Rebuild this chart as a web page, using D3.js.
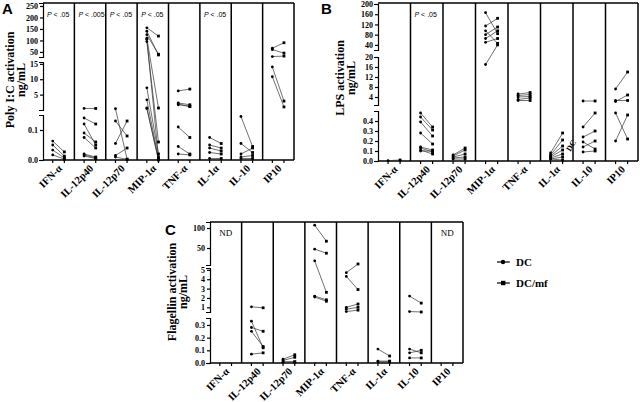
<!DOCTYPE html>
<head>
  <meta charset="utf-8">
  <title>Cytokine activation</title>
  <script src="https://d3js.org/d3.v7.min.js"></script>
  <style>
    body { margin: 0; background: #fff; }
    text { font-family: "Liberation Serif", "Times New Roman", serif; font-weight: bold; }
    .pval { font-family: "Liberation Sans", Arial, sans-serif; font-weight: normal; font-size: 7px; }
    .nd { font-weight: normal; font-size: 9px; }
    .letter { font-family: "Liberation Sans", Arial, sans-serif; font-weight: bold; font-size: 15px; }
    .pair { stroke: #333; stroke-width: 0.7; }
    .frame { stroke: #000; stroke-width: 1.5; fill: none; }
    .tick line, .domain { stroke: #000; stroke-width: 1.2; }
  </style>
</head>
<body>
<script>
var cytokines = ["IFN-α", "IL-12p40", "IL-12p70", "MIP-1α", "TNF-α", "IL-1α", "IL-10", "IP10"];

// Poly I:C, one list of donors per cytokine (DC -> DC/mf)
var polyDC = [
  [0.063, 0.05, 0.033, 0.017],
  [0.5, 0.14, 0.12, 0.09, 0.075, 0.02, 0.017, 0.013],
  [0.4, 0.13, 0.055, 0.015, 0.01],
  [155, 140, 125, 110, 95, 105, 7.2, 3.3, 0.65, 0.5],
  [6.2, 2.3, 2.0, 1.7, 0.11, 0.045, 0.02],
  [0.075, 0.05, 0.04, 0.025, 0.005],
  [0.145, 0.055, 0.02, 0.01, 0.005],
  [66, 60, 30, 14, 10.8]
];
var polyDCmf = [
  [0.027, 0.013, 0.007, 0.003],
  [0.5, 0.12, 0.05, 0.06, 0.04, 0.01, 0.007, 0.005],
  [0.003, 0.08, 0.13, 0.04, 0.002],
  [119, 37, 40, 0.65, 0.06, 0.01, 0.02, 0.005, 0.002, 0.0],
  [6.8, 1.7, 1.1, 1.2, 0.075, 0.02, 0.017],
  [0.055, 0.04, 0.03, 0.02, 0.005],
  [0.045, 0.025, 0.04, 0.015, 0.005],
  [90, 45, 32, 2.9, 1.0]
];
var polyP = ["P < .05", "P < .005", "P < .05", "P < .05", "", "P < .05", "", ""];

// LPS
var lpsDC = [
  [0.003],
  [0.48, 0.44, 0.39, 0.28, 0.14, 0.13, 0.11, 0.1],
  [0.06, 0.05, 0.04, 0.03, 0.02],
  [166, 114, 95, 80, 65, 50, 17],
  [5.2, 4.6, 4.0, 3.0, 2.6],
  [0.08, 0.06, 0.05, 0.04, 0.03, 0.02, 0.02],
  [2.4, 0.34, 0.24, 0.19, 0.14, 0.09],
  [7.2, 2.6, 2.2, 0.2, 0.48]
];
var lpsDCmf = [
  [0.01],
  [0.34, 0.31, 0.25, 0.17, 0.11, 0.09, 0.07, 0.1],
  [0.13, 0.11, 0.07, 0.04, 0.02],
  [84, 144, 46, 110, 95, 65, 40],
  [5.8, 5.0, 4.2, 3.6, 2.6],
  [0.28, 0.21, 0.15, 0.11, 0.07, 0.04, 0.01],
  [2.4, 0.48, 0.3, 0.12, 0.2, 0.1],
  [14, 2.6, 4.8, 0.46, 0.22]
];
var lpsP = ["", "P < .05", "", "", "", "", "", ""];

// Flagellin
var flaDC = [
  [],
  [1.05, 0.33, 0.28, 0.25, 0.07],
  [0.03, 0.02, 0.01, 0.005],
  [107, 47, 18, 2.2, 2.1],
  [4.7, 4.3, 1.0, 0.8, 0.55],
  [0.11, 0.015, 0.01],
  [2.2, 0.55, 0.11, 0.08, 0.04],
  []
];
var flaDCmf = [
  [],
  [0.95, 0.12, 0.25, 0.13, 0.08],
  [0.065, 0.045, 0.01, 0.008],
  [67, 37, 2.6, 1.8, 1.65],
  [10, 2.9, 1.35, 1.0, 0.7],
  [0.055, 0.015, 0.01],
  [1.45, 0.5, 0.08, 0.1, 0.04],
  []
];
var flaND = ["IFN-α", "IP10"];

// broken axis tick labels
var polyTicks = [[50, 100, 150, 200, 250], [5, 10, 15], [0, 0.1]];
var lpsTicks = [[40, 80, 120, 160, 200], [4, 8, 12, 16, 20], [0, 0.1, 0.2, 0.3, 0.4]];
var flaTicks = [[50, 100], [1, 2, 3, 4, 5], [0, 0.1, 0.2, 0.3]];

var width = 640, height = 402;
var svg = d3.select("body").append("svg")
    .attr("width", width)
    .attr("height", height);

function panel(o) {
  var g = svg.append("g");
  var x = d3.scaleBand().domain(cytokines).range([o.left, o.right]);
  var bw = x.bandwidth();
  function xs(name, k) { return x(name) + bw * (k ? 0.68 : 0.31); }

  var segs = o.segments.map(function(s, i) {
    return {
      scale: d3.scaleLinear().domain(s.domain).range(s.range),
      ticks: o.ticks[i],
      fmt: s.fmt
    };
  });
  function y(v) {
    if (v > segs[0].scale.domain()[0]) return segs[0].scale(v);
    if (v > segs[2].scale.domain()[1]) return segs[1].scale(Math.max(v, segs[1].scale.domain()[0]));
    return segs[2].scale(v);
  }

  // column frame
  g.append("line").attr("class", "frame")
    .attr("x1", o.left).attr("x2", o.right)
    .attr("y1", o.top).attr("y2", o.top);
  g.selectAll(".sep").data(cytokines).enter().append("line")
    .attr("class", "frame")
    .attr("x1", function(d) { return x(d) + bw; })
    .attr("x2", function(d) { return x(d) + bw; })
    .attr("y1", o.top).attr("y2", o.bottom);

  // left broken axis
  segs.forEach(function(s) {
    g.append("g")
      .attr("transform", "translate(" + o.left + ",0)")
      .call(d3.axisLeft(s.scale).tickValues(s.ticks).tickSize(3).tickSizeOuter(4)
        .tickFormat(d3.format(s.fmt)))
      .call(function(a) {
        a.selectAll("text").attr("font-size", 8).attr("font-family", null).attr("dx", "1");
      });
  });

  // bottom axis with a tick under each group
  g.append("line").attr("class", "frame")
    .attr("x1", o.left).attr("x2", o.right)
    .attr("y1", o.bottom).attr("y2", o.bottom);
  cytokines.forEach(function(c) {
    [0, 1].forEach(function(k) {
      g.append("line").attr("stroke", "#000").attr("stroke-width", 1.2)
        .attr("x1", xs(c, k)).attr("x2", xs(c, k))
        .attr("y1", o.bottom).attr("y2", o.bottom + 3);
    });
  });
  g.selectAll(".xl").data(cytokines).enter().append("text")
    .attr("font-size", 10.5)
    .attr("text-anchor", "end")
    .attr("transform", function(d) {
      return "translate(" + (x(d) + bw / 2 + 4) + "," + (o.bottom + 9) + ") rotate(-45)";
    })
    .text(function(d) { return d; });

  // paired donors
  cytokines.forEach(function(c, i) {
    var a = o.dc[i], b = o.dcmf[i];
    a.forEach(function(v, j) {
      g.append("line").attr("class", "pair")
        .attr("x1", xs(c, 0)).attr("y1", y(v))
        .attr("x2", xs(c, 1)).attr("y2", y(b[j]));
    });
    a.forEach(function(v) {
      g.append("circle").attr("cx", xs(c, 0)).attr("cy", y(v)).attr("r", 1.4).attr("fill", "#000");
    });
    b.forEach(function(v) {
      g.append("rect").attr("x", xs(c, 1) - 1.4).attr("y", y(v) - 1.4)
        .attr("width", 2.8).attr("height", 2.8).attr("fill", "#000");
    });
  });

  if (o.p) {
    g.selectAll(".pv").data(cytokines).enter().append("text")
      .attr("class", "pval")
      .attr("x", function(d) { return x(d) + 4; })
      .attr("y", o.top + 14)
      .each(function(d, i) {
        if (!o.p[i]) return;
        var t = d3.select(this);
        t.append("tspan").attr("font-style", "italic").text("P");
        t.append("tspan").text(o.p[i].slice(1));
      });
  }
  if (o.nd) {
    g.selectAll(".ndl").data(o.nd).enter().append("text")
      .attr("class", "nd")
      .attr("text-anchor", "middle")
      .attr("x", function(d) { return x(d) + bw / 2; })
      .attr("y", o.top + 14)
      .text("ND");
  }

  // y title
  g.append("text").attr("font-size", 12).attr("text-anchor", "middle")
    .attr("transform", "translate(" + o.titleX + "," + o.titleY + ") rotate(-90)")
    .text(o.title);
  g.append("text").attr("font-size", 12).attr("text-anchor", "middle")
    .attr("transform", "translate(" + (o.titleX + 11) + "," + o.titleY + ") rotate(-90)")
    .text("ng/mL");
  g.append("text").attr("class", "letter")
    .attr("x", o.letterX).attr("y", o.letterY).text(o.letter);
  return {x: xs, y: y};
}

panel({
  left: 43, right: 294, top: 3, bottom: 160,
  segments: [
    {domain: [28, 263], range: [57, 3], fmt: "d"},
    {domain: [0, 15.6], range: [110, 62], fmt: "d"},
    {domain: [0, 0.15], range: [160, 115], fmt: ".1f"}
  ],
  ticks: polyTicks, dc: polyDC, dcmf: polyDCmf, p: polyP,
  title: "Poly I:C activation", titleX: 14, titleY: 80,
  letter: "A", letterX: 2, letterY: 14
});

var pb = panel({
  left: 378, right: 638, top: 3, bottom: 161,
  segments: [
    {domain: [20, 200], range: [50, 4], fmt: "d"},
    {domain: [0.8, 20], range: [105, 57], fmt: "d"},
    {domain: [0, 0.5], range: [161, 111], fmt: ".1f"}
  ],
  ticks: lpsTicks, dc: lpsDC, dcmf: lpsDCmf, p: lpsP,
  title: "LPS activation", titleX: 344, titleY: 78,
  letter: "B", letterX: 321, letterY: 14
});

panel({
  left: 210, right: 463, top: 222, bottom: 363,
  segments: [
    {domain: [7.5, 115], range: [265, 222], fmt: "d"},
    {domain: [0.5, 5.2], range: [312, 268], fmt: "d"},
    {domain: [0, 0.355], range: [363, 318], fmt: ".1f"}
  ],
  ticks: flaTicks, dc: flaDC, dcmf: flaDCmf, nd: flaND,
  title: "Flagellin activation", titleX: 176, titleY: 292,
  letter: "C", letterX: 165, letterY: 235
});

// stray "DC" label inside panel B
svg.append("text").attr("font-size", 8)
  .attr("transform", "translate(" + (pb.x("IL-1α", 1) + 8) + "," + (pb.y(0.09)) + ") rotate(-60)")
  .text("DC");

// legend
var legend = svg.append("g").attr("transform", "translate(497,262)");
["DC", "DC/mf"].forEach(function(name, i) {
  var row = legend.append("g").attr("transform", "translate(0," + i * 21 + ")");
  row.append("line").attr("x1", 0).attr("x2", 13).attr("stroke", "#000").attr("stroke-width", 1.2);
  if (i === 0) row.append("circle").attr("cx", 6).attr("r", 2.2);
  else row.append("rect").attr("x", 4).attr("y", -2.2).attr("width", 4.4).attr("height", 4.4);
  row.append("text").attr("x", 19).attr("y", 4).attr("font-size", 11).text(name);
});
</script>
</body>
